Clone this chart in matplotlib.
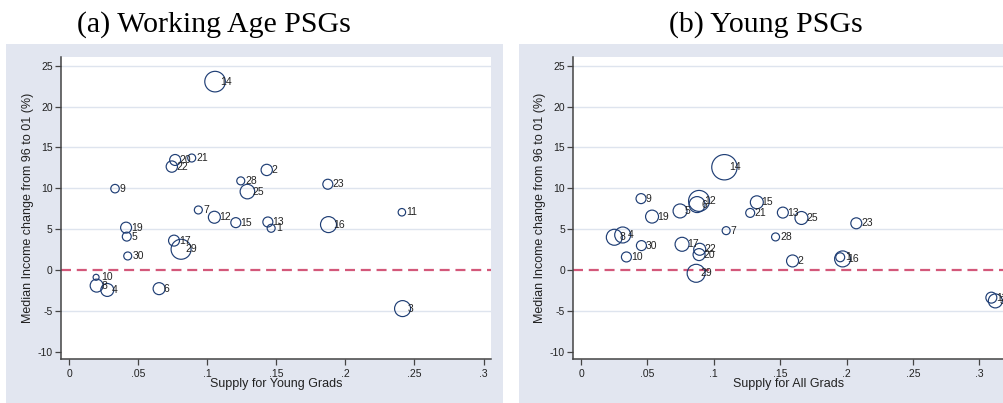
import matplotlib
matplotlib.use("Agg")
import matplotlib.pyplot as plt
from matplotlib.patches import Rectangle

# ---------------- data ----------------
psg_ids = [1, 2, 3, 4, 5, 6, 7, 8, 9, 10, 11, 12, 13, 14, 15, 16, 17, 19, 20, 21,
           22, 23, 25, 28, 29, 30]

# (a) Working Age PSGs
supply_young = [0.1463, 0.1431, 0.2414, 0.0277, 0.0418, 0.0652, 0.0936, 0.0200, 0.0333, 0.0196,
                0.2409, 0.1052, 0.1439, 0.1057, 0.1207, 0.1878, 0.0760, 0.0413, 0.0768, 0.0888,
                0.0744, 0.1873, 0.1291, 0.1243, 0.0811, 0.0425]
income_a = [5.10, 12.24, -4.73, -2.45, 4.08, -2.29, 7.34, -1.92, 9.95, -0.90,
            7.06, 6.45, 5.87, 23.05, 5.79, 5.55, 3.59, 5.18, 13.46, 13.70,
            12.65, 10.49, 9.59, 10.90, 2.53, 1.71]
weight_a = [16, 32, 64, 42, 20, 36, 16, 42, 18, 9,
            14, 36, 25, 106, 25, 64, 30, 30, 30, 16,
            32, 25, 53, 16, 100, 16]

# (b) Young PSGs
supply_all = [0.1952, 0.1593, 0.3120, 0.0314, 0.0746, 0.0874, 0.1093, 0.0251, 0.0452, 0.0342,
              0.3090, 0.0889, 0.1520, 0.1080, 0.1324, 0.1970, 0.0761, 0.0535, 0.0889, 0.1274,
              0.0894, 0.2073, 0.1660, 0.1465, 0.0867, 0.0455]
income_b = [1.55, 1.10, -3.79, 4.28, 7.22, 8.00, 4.81, 4.00, 8.73, 1.59,
            -3.39, 8.45, 7.02, 12.57, 8.28, 1.35, 3.14, 6.53, 1.88, 6.98,
            2.53, 5.71, 6.36, 4.04, -0.41, 2.98]
weight_b = [20, 36, 49, 64, 49, 64, 16, 64, 25, 25,
            30, 110, 30, 161, 42, 64, 49, 42, 36, 20,
            36, 30, 42, 16, 81, 25]

yticks = [-10, -5, 0, 5, 10, 15, 20, 25]
ytick_labels = ["-10", "-5", "0", "5", "10", "15", "20", "25"]
xticks = [0, 0.05, 0.1, 0.15, 0.2, 0.25, 0.3]
xtick_labels = ["0", ".05", ".1", ".15", ".2", ".25", ".3"]

titles = ["(a) Working Age PSGs", "(b) Young PSGs"]
xlabels = ["Supply for Young Grads", "Supply for All Grads"]
ylabel = "Median Income change from 96 to 01 (%)"

# ---------------- style ----------------
W, H = 1004, 403
fig = plt.figure(figsize=(W / 100, H / 100), dpi=100)
fig.patch.set_facecolor("white")

panel_col = "#E2E6F0"
grid_col = "#DEE4EE"
navy = "#1F3E75"
dash_col = "#D3587A"
sans = ["Liberation Sans", "DejaVu Sans"]
serif = ["Liberation Serif", "DejaVu Serif"]

# gray graph regions
fig.patches.append(Rectangle((6 / W, 0), 497 / W, (H - 44) / H, transform=fig.transFigure,
                             facecolor=panel_col, edgecolor="none", zorder=-5))
fig.patches.append(Rectangle((519 / W, 0), (W - 519) / W, (H - 44) / H, transform=fig.transFigure,
                             facecolor=panel_col, edgecolor="none", zorder=-5))

ax_w = 430 / W
ax_b = 1 - 359 / H
ax_h = (359 - 56.7) / H
axes_specs = [
    (61 / W, (-0.0058, 0.3054), supply_young, income_a, weight_a),
    (573.3 / W, (-0.0058, 0.318), supply_all, income_b, weight_b),
]
title_x = [214 / W, 766 / W]

for i, (left, xlim, xs, ys, ws) in enumerate(axes_specs):
    ax = fig.add_axes([left, ax_b, ax_w, ax_h])
    ax.set_zorder(2)
    ax.set_facecolor("white")
    ax.set_xlim(*xlim)
    ax.set_ylim(-10.9, 26.1)

    for g in [-5, 5, 10, 15, 20, 25]:
        ax.axhline(g, color=grid_col, lw=1.0, zorder=1)
    ax.axhline(0, color=dash_col, lw=1.6, linestyle=(0, (4.5, 2.6)), zorder=2)

    sizes = [w * 2.07 for w in ws]
    ax.scatter(xs, ys, s=sizes, facecolors="none", edgecolors=navy, linewidths=0.85, zorder=3)
    for pid, x, y in zip(psg_ids, xs, ys):
        ax.annotate(str(pid), (x, y), xytext=(3.4, 0), textcoords="offset points",
                    ha="left", va="center", fontsize=7.5, family=sans, color="#222222",
                    zorder=4)

    ax.set_yticks(yticks)
    ax.set_yticklabels(ytick_labels, family=sans, fontsize=7.5)
    ax.set_xticks(xticks)
    ax.set_xticklabels(xtick_labels, family=sans, fontsize=7.5)
    ax.tick_params(axis="y", direction="out", length=4, width=0.9, color="#444444", pad=2,
                   labelcolor="#222222")
    ax.tick_params(axis="x", direction="out", length=4, width=0.9, color="#444444", pad=3,
                   labelcolor="#222222")
    for sp in ["top", "right"]:
        ax.spines[sp].set_visible(False)
    for sp in ["left", "bottom"]:
        ax.spines[sp].set_color("#444444")
        ax.spines[sp].set_linewidth(1.1)

    # axis titles
    cx = left + ax_w / 2
    fig.text(cx, 1 - 383.5 / H, xlabels[i], ha="center", va="center", fontsize=9,
             family=sans, color="#222222", zorder=3)
    fig.text(left - 33 / W, ax_b + ax_h / 2, ylabel, rotation=90, ha="center", va="center",
             fontsize=9, family=sans, color="#222222", zorder=3)

    fig.text(title_x[i], 1 - 31.7 / H, titles[i], ha="center", va="baseline", fontsize=21.5,
             family=serif, color="black", zorder=3)

fig.savefig("out.png", dpi=100)
